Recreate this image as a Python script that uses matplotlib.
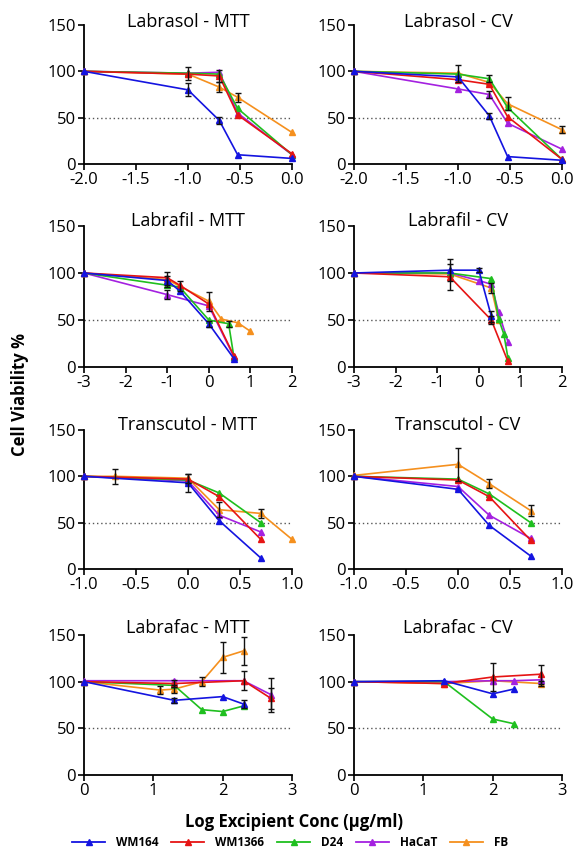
import numpy as np
from matplotlib import pyplot as plt
from matplotlib.lines import Line2D

plt.rcParams['font.family'] = ['Open Sans', 'DejaVu Sans']

cells = ['WM164', 'WM1366', 'D24', 'HaCaT', 'FB']
colors = ['#1414e0', '#e61414', '#1fbf1f', '#a421e0', '#f5901e']
N = None

# Labrasol - MTT
labrasol_mtt_x = [-2, -1, -0.699, -0.523, 0]
labrasol_mtt_y = [[100, 80, 47, 10, 6],
                  [100, 97, 95, 53, 11],
                  [100, 98, 97, 60, 10],
                  [100, 98, 99, 55, 10],
                  [100, 97, 83, 72, 34]]
labrasol_mtt_err = [[0, 7, 4, 0, 0],
                    [0, 0, 6, 0, 0],
                    [0, 7, 0, 0, 0],
                    [0, 0, 0, 0, 0],
                    [0, 0, 5, 5, 0]]

# Labrasol - CV
labrasol_cv_x = [-2, -1, -0.699, -0.523, 0]
labrasol_cv_y = [[100, 94, 52, 8, 4],
                 [100, 91, 86, 51, 5],
                 [100, 97, 92, 61, 5],
                 [100, 81, 75, 44, 16],
                 [100, 98, 88, 65, 37]]
labrasol_cv_err = [[0, 0, 3, 0, 0],
                   [0, 0, 0, 0, 0],
                   [0, 0, 4, 0, 0],
                   [0, 0, 4, 0, 0],
                   [0, 9, 0, 7, 4]]

# Labrafil - MTT
labrafil_mtt_x = [-3, -1, -0.699, 0, 0.301, 0.477, 0.602, 0.699, 1]
labrafil_mtt_y = [[100, 92, 81, 46, N, N, 9, N, N],
                  [100, 95, 87, 67, N, N, 12, N, N],
                  [100, 87, 85, 50, N, 46, 11, N, N],
                  [100, 77, N, 65, N, N, 11, N, N],
                  [100, 93, 86, 70, 51, N, N, 47, 38]]
labrafil_mtt_err = [[0, 5, 0, 3, 0, 0, 0, 0, 0],
                    [0, 0, 0, 0, 0, 0, 0, 0, 0],
                    [0, 0, 0, 0, 0, 3, 0, 0, 0],
                    [0, 5, 0, 0, 0, 0, 0, 0, 0],
                    [0, 8, 5, 10, 0, 0, 0, 0, 0]]

# Labrafil - CV
labrafil_cv_x = [-3, -0.699, 0, 0.301, 0.477, 0.602, 0.699]
labrafil_cv_y = [[100, 103, 103, 54, N, N, N],
                 [100, 96, N, 50, N, N, 6],
                 [100, 100, N, 94, 51, 35, 10],
                 [100, 100, 92, 88, 58, N, 27],
                 [100, 99, N, 84, 50, N, N]]
labrafil_cv_err = [[0, 12, 2, 6, 0, 0, 0],
                   [0, 14, 0, 4, 0, 0, 0],
                   [0, 0, 0, 0, 0, 0, 0],
                   [0, 0, 0, 0, 0, 0, 0],
                   [0, 0, 0, 5, 0, 0, 0]]

# Transcutol - MTT
transcutol_mtt_x = [-1, -0.699, 0, 0.301, 0.699, 1]
transcutol_mtt_y = [[100, N, 93, 52, 12, N],
                    [100, N, 97, 78, 32, N],
                    [100, N, 96, 82, 50, N],
                    [100, N, 95, 58, 40, N],
                    [100, 100, 98, 64, 60, 32]]
transcutol_mtt_err = [[0, 0, 10, 0, 0, 0],
                      [0, 0, 0, 0, 0, 0],
                      [0, 0, 0, 0, 0, 0],
                      [0, 0, 0, 0, 0, 0],
                      [0, 8, 5, 8, 5, 0]]

# Transcutol - CV
transcutol_cv_x = [-1, 0, 0.301, 0.699]
transcutol_cv_y = [[100, 86, 47, 14],
                   [100, 96, 78, 31],
                   [100, 97, 81, 50],
                   [100, 89, 58, 33],
                   [101, 113, 92, 63]]
transcutol_cv_err = [[0, 0, 0, 0],
                     [0, 0, 0, 0],
                     [0, 0, 0, 0],
                     [0, 0, 0, 0],
                     [0, 18, 5, 6]]

# Labrafac - MTT
labrafac_mtt_x = [0, 1.097, 1.301, 1.699, 2, 2.301, 2.699]
labrafac_mtt_y = [[100, N, 80, N, 84, 76, N],
                  [100, N, 98, N, N, 101, 82],
                  [100, N, 96, 70, 68, 74, N],
                  [101, N, 101, N, N, 101, 86],
                  [100, 91, 92, 100, 126, 133, N]]
labrafac_mtt_err = [[0, 0, 3, 0, 0, 4, 0],
                    [0, 0, 4, 0, 0, 10, 11],
                    [0, 0, 0, 0, 0, 0, 0],
                    [0, 0, 0, 0, 0, 0, 18],
                    [0, 4, 4, 5, 17, 15, 0]]

# Labrafac - CV
labrafac_cv_x = [0, 1.301, 2, 2.301, 2.699]
labrafac_cv_y = [[100, 101, 87, 92, N],
                 [100, 98, 105, N, 108],
                 [100, 100, 60, 55, N],
                 [100, 100, 101, 101, 102],
                 [100, 98, 101, N, 98]]
labrafac_cv_err = [[0, 0, 0, 0, 0],
                   [0, 0, 15, 0, 10],
                   [0, 0, 0, 0, 0],
                   [0, 0, 0, 0, 0],
                   [0, 0, 0, 0, 3]]

panels = [
    ('Labrasol - MTT', labrasol_mtt_x, labrasol_mtt_y, labrasol_mtt_err, (-2, 0), np.arange(-2, 0.01, 0.5), '{:.1f}'),
    ('Labrasol - CV', labrasol_cv_x, labrasol_cv_y, labrasol_cv_err, (-2, 0), np.arange(-2, 0.01, 0.5), '{:.1f}'),
    ('Labrafil - MTT', labrafil_mtt_x, labrafil_mtt_y, labrafil_mtt_err, (-3, 2), np.arange(-3, 2.01, 1), '{:.0f}'),
    ('Labrafil - CV', labrafil_cv_x, labrafil_cv_y, labrafil_cv_err, (-3, 2), np.arange(-3, 2.01, 1), '{:.0f}'),
    ('Transcutol - MTT', transcutol_mtt_x, transcutol_mtt_y, transcutol_mtt_err, (-1, 1), np.arange(-1, 1.01, 0.5), '{:.1f}'),
    ('Transcutol - CV', transcutol_cv_x, transcutol_cv_y, transcutol_cv_err, (-1, 1), np.arange(-1, 1.01, 0.5), '{:.1f}'),
    ('Labrafac - MTT', labrafac_mtt_x, labrafac_mtt_y, labrafac_mtt_err, (0, 3), np.arange(0, 3.01, 1), '{:.0f}'),
    ('Labrafac - CV', labrafac_cv_x, labrafac_cv_y, labrafac_cv_err, (0, 3), np.arange(0, 3.01, 1), '{:.0f}'),
]

W, H = 576, 861
fig = plt.figure(figsize=(W / 100, H / 100), dpi=100)

# pixel boxes of each axes (left, right, top, bottom)
cols_px = [(84, 292), (354, 562)]
rows_px = [(25, 164), (226, 367), (430, 569), (635, 775)]
title_px = [22, 221, 425, 628]

draw_order = [4, 3, 2, 1, 0]

for i, (title, x, ys, errs, xlim, xticks, fmt) in enumerate(panels):
    r, c = divmod(i, 2)
    x0, x1 = cols_px[c]
    t, b = rows_px[r]
    ax = fig.add_axes([x0 / W, 1 - b / H, (x1 - x0) / W, (b - t) / H])

    ax.plot(xlim, [50, 50], ls=(0, (1, 2)), color='#555555', lw=1, zorder=1)

    for k in draw_order:
        xv = np.array([xx for xx, yy in zip(x, ys[k]) if yy is not None])
        yv = np.array([yy for yy in ys[k] if yy is not None])
        ev = np.array([e for e, yy in zip(errs[k], ys[k]) if yy is not None])
        ax.plot(xv, yv, color=colors[k], lw=1.2, marker='^', ms=4.5,
                clip_on=False, zorder=3 + (4 - k) * 0.1)
        m = ev > 0
        if m.any():
            ax.errorbar(xv[m], yv[m], yerr=ev[m], fmt='none', ecolor='#111111',
                        elinewidth=1, capsize=2.5, capthick=1, zorder=5, clip_on=False)

    ax.set_xlim(*xlim)
    ax.set_ylim(0, 150)
    ax.set_yticks([0, 50, 100, 150])
    ax.set_xticks(xticks)
    ax.set_xticklabels([fmt.format(v) for v in xticks])
    for s in ['top', 'right']:
        ax.spines[s].set_visible(False)
    for s in ['left', 'bottom']:
        ax.spines[s].set_linewidth(1.3)
    ax.tick_params(direction='out', length=4, width=1.2, labelsize=12, pad=2)
    fig.text((x0 + x1) / 2 / W, 1 - title_px[r] / H, title, ha='center', va='center',
             fontsize=13)

fig.text(20 / W, 1 - 394 / H, 'Cell Viability %', rotation=90, ha='center', va='center',
         fontsize=12, fontweight='bold')
fig.text(294 / W, 1 - 822 / H, 'Log Excipient Conc (\u00b5g/ml)', ha='center', va='center',
         fontsize=12, fontweight='bold')

handles = [Line2D([], [], color=col, lw=1.3, marker='^', ms=5) for col in colors]
fig.legend(handles, cells, loc='center', bbox_to_anchor=(290 / W, 1 - 843 / H), ncol=5,
           frameon=False, prop={'weight': 'bold', 'size': 8.5},
           handlelength=2.8, columnspacing=1.1, handletextpad=0.9)

fig.savefig('out.png', dpi=100)
